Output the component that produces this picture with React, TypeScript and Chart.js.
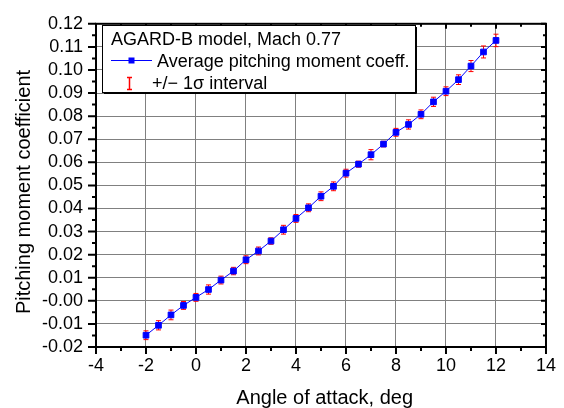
import React, { useEffect, useRef } from 'react';
import { Chart, registerables } from 'chart.js';

Chart.register(...registerables);

// ---- data ----
const angleOfAttack = [
  -2, -1.5, -1, -0.5, 0, 0.5, 1, 1.5, 2, 2.5, 3, 3.5, 4, 4.5, 5, 5.5,
  6, 6.5, 7, 7.5, 8, 8.5, 9, 9.5, 10, 10.5, 11, 11.5, 12,
];
const pitchingMoment = [
  -0.0149, -0.0106, -0.0061, -0.002, 0.0015, 0.0049, 0.009, 0.0129,
  0.0178, 0.0216, 0.0259, 0.0308, 0.0357, 0.0403, 0.0453, 0.0496,
  0.0553, 0.0592, 0.0633, 0.0679, 0.073, 0.0764, 0.0808, 0.0862,
  0.0908, 0.0958, 0.1017, 0.1078, 0.1128,
];
const sigma = [
  0.0019, 0.002, 0.0021, 0.0017, 0.0017, 0.002, 0.0017, 0.0016,
  0.0017, 0.0017, 0.0014, 0.0019, 0.0017, 0.0017, 0.0019, 0.0019,
  0.0017, 0.0013, 0.0022, 0.0012, 0.0017, 0.002, 0.0019, 0.002,
  0.0019, 0.0021, 0.0024, 0.0026, 0.0027,
];
const xRange = [-4, 14];
const yRange = [-0.02, 0.12];
const xStep = 2;
const yStep = 0.01;

const legendTitle = 'AGARD-B model, Mach 0.77';
const seriesLabel = 'Average pitching moment coeff.';
const errorLabel = '+/\u2212 1\u03c3 interval';
const xTitle = 'Angle of attack, deg';
const yTitle = 'Pitching moment coefficient';

const FONT = '"Liberation Sans", Arial, sans-serif';
const BLUE = '#0000ff';
const RED = '#ff0000';

const errorBarsPlugin = {
  id: 'errorBars',
  beforeDatasetsDraw(chart: any) {
    const { ctx } = chart;
    const x = chart.scales.x;
    const y = chart.scales.y;
    ctx.save();
    ctx.strokeStyle = RED;
    ctx.lineWidth = 1;
    angleOfAttack.forEach((a, i) => {
      const px = x.getPixelForValue(a);
      const yTop = y.getPixelForValue(pitchingMoment[i] + sigma[i]);
      const yBot = y.getPixelForValue(pitchingMoment[i] - sigma[i]);
      ctx.beginPath();
      ctx.moveTo(px, yTop);
      ctx.lineTo(px, yBot);
      ctx.moveTo(px - 2.5, yTop);
      ctx.lineTo(px + 2.5, yTop);
      ctx.moveTo(px - 2.5, yBot);
      ctx.lineTo(px + 2.5, yBot);
      ctx.stroke();
    });
    ctx.restore();
  },
};

const framePlugin = {
  id: 'frame',
  afterDraw(chart: any) {
    const { ctx, chartArea } = chart;
    const { left, right, top, bottom } = chartArea;
    const x = chart.scales.x;
    const y = chart.scales.y;
    ctx.save();
    // frame
    ctx.strokeStyle = '#000';
    ctx.lineWidth = 2;
    ctx.strokeRect(left, top, right - left, bottom - top);
    // ticks
    ctx.beginPath();
    const nx = Math.round((x.max - x.min) / (xStep / 2));
    for (let k = 0; k <= nx; k++) {
      const v = x.min + (k * xStep) / 2;
      const px = x.getPixelForValue(v);
      const major = k % 2 === 0;
      ctx.moveTo(px, bottom);
      ctx.lineTo(px, bottom + (major ? 7 : 4));
      ctx.moveTo(px, top);
      ctx.lineTo(px, top + (major ? 5 : 3));
    }
    const ny = Math.round((y.max - y.min) / (yStep / 2));
    for (let k = 0; k <= ny; k++) {
      const v = y.min + (k * yStep) / 2;
      const py = y.getPixelForValue(v);
      const major = k % 2 === 0;
      ctx.moveTo(left, py);
      ctx.lineTo(left - (major ? 8 : 4), py);
      ctx.moveTo(right, py);
      ctx.lineTo(right - (major ? 5 : 3), py);
    }
    ctx.stroke();

    // legend box
    ctx.fillStyle = '#fff';
    ctx.fillRect(102.5, 25.5, 313, 67);
    ctx.lineWidth = 1;
    ctx.strokeStyle = '#000';
    ctx.strokeRect(102.5, 25.5, 313, 67);
    ctx.beginPath();
    ctx.moveTo(416.5, 27);
    ctx.lineTo(416.5, 93.5);
    ctx.lineTo(104, 93.5);
    ctx.stroke();

    ctx.fillStyle = '#000';
    ctx.font = `18px ${FONT}`;
    ctx.textAlign = 'left';
    ctx.textBaseline = 'alphabetic';
    ctx.fillText(legendTitle, 111, 45);
    ctx.fillText(seriesLabel, 157, 66.5);
    ctx.fillText(errorLabel, 152, 88.5);

    ctx.strokeStyle = BLUE;
    ctx.lineWidth = 1;
    ctx.beginPath();
    ctx.moveTo(111, 60.5);
    ctx.lineTo(152, 60.5);
    ctx.stroke();
    ctx.fillStyle = BLUE;
    ctx.fillRect(128.5, 57.5, 6, 6);

    ctx.strokeStyle = RED;
    ctx.lineWidth = 1.5;
    ctx.beginPath();
    ctx.moveTo(129.5, 77.5);
    ctx.lineTo(129.5, 89.5);
    ctx.moveTo(127, 77.5);
    ctx.lineTo(132, 77.5);
    ctx.moveTo(127, 89.5);
    ctx.lineTo(132, 89.5);
    ctx.stroke();

    // axis titles
    ctx.fillStyle = '#000';
    ctx.font = `20px ${FONT}`;
    ctx.textAlign = 'center';
    ctx.textBaseline = 'alphabetic';
    ctx.fillText(xTitle, (left + right) / 2 + 3.7, 404);
    ctx.translate(30, 192);
    ctx.rotate(-Math.PI / 2);
    ctx.fillText(yTitle, 0, 0);
    ctx.restore();
  },
};

export default function App() {
  const canvasRef = useRef<HTMLCanvasElement | null>(null);

  useEffect(() => {
    const canvas = canvasRef.current;
    if (!canvas) return;
    const chart = new Chart(canvas, {
      type: 'line',
      data: {
        datasets: [
          {
            label: seriesLabel,
            data: angleOfAttack.map((a, i) => ({ x: a, y: pitchingMoment[i] })),
            borderColor: BLUE,
            borderWidth: 1,
            backgroundColor: BLUE,
            pointStyle: 'rect',
            pointRadius: 4,
            pointBorderWidth: 1,
            pointBackgroundColor: BLUE,
            pointBorderColor: BLUE,
            tension: 0,
            fill: false,
          },
        ],
      },
      options: {
        responsive: false,
        animation: false,
        events: [],
        layout: { padding: { left: 8, right: 18, top: 15, bottom: 11 } },
        plugins: {
          legend: { display: false },
          tooltip: { enabled: false },
          title: { display: false },
        },
        scales: {
          x: {
            type: 'linear',
            min: xRange[0],
            max: xRange[1],
            ticks: {
              stepSize: xStep,
              color: '#000',
              font: { family: FONT, size: 18 },
              padding: 8,
              maxRotation: 0,
              autoSkip: false,
            },
            grid: { color: '#808080', lineWidth: 1, drawTicks: false },
            border: { display: false },
            afterFit: (s: any) => {
              s.height = 50;
            },
          },
          y: {
            type: 'linear',
            min: yRange[0],
            max: yRange[1],
            ticks: {
              stepSize: yStep,
              color: '#000',
              font: { family: FONT, size: 18 },
              padding: 13,
              autoSkip: false,
              callback: (v: any) => Number(v).toFixed(2),
            },
            grid: { color: '#808080', lineWidth: 1, drawTicks: false },
            border: { display: false },
            afterFit: (s: any) => {
              s.width = 88;
            },
          },
        },
      },
      plugins: [errorBarsPlugin, framePlugin],
    });
    return () => chart.destroy();
  }, []);

  return (
    <div style={{ position: 'absolute', left: 0, top: 0, width: 564, height: 408, background: '#fff' }}>
      <canvas ref={canvasRef} width={564} height={408} style={{ display: 'block' }} />
    </div>
  );
}
